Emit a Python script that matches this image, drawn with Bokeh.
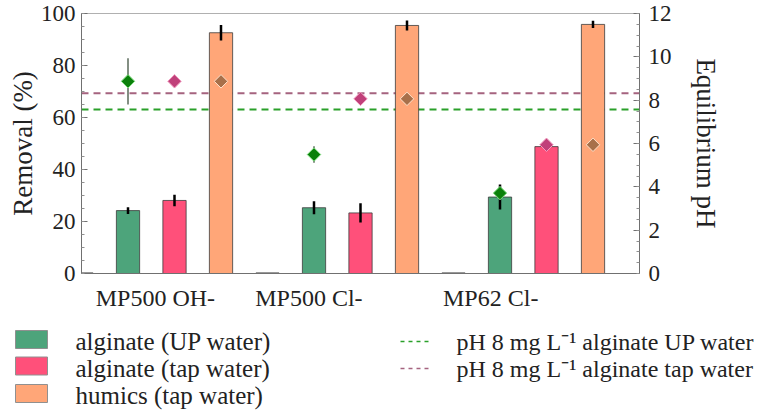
import numpy as np
from bokeh.plotting import figure
from bokeh.models import Range1d, LinearAxis, SingleIntervalTicker, FixedTicker, Span
from bokeh.embed import file_html
from bokeh.resources import INLINE
from bokeh.core.properties import value

# ---------------- data ----------------
categories = ["MP500 OH-", "MP500 Cl-", "MP62 Cl-"]
blank_series = [0.0, 0.0, 0.0]
alg_up = [24.2, 25.3, 29.4]
alg_up_err = [1.3, 2.5, 4.8]
alg_tap = [28.1, 23.3, 48.8]
alg_tap_err = [2.2, 3.7, 0.6]
humics_tap = [92.6, 95.4, 95.8]
humics_tap_err = [3.0, 1.9, 1.4]
ph_alg_up = [8.87, 5.49, 3.71]
ph_alg_up_err = [1.07, 0.38, 0.3]
ph_alg_tap = [8.87, 8.06, 5.94]
ph_humics_tap = [8.87, 8.06, 5.94]
ph_ref_up_water = 7.57
ph_ref_tap_water = 8.32
bar_names = ["alginate (UP water)", "alginate (tap water)", "humics (tap water)"]
line_names = ["pH 8 mg L\u207b\u00b9 alginate UP water", "pH 8 mg L\u207b\u00b9 alginate tap water"]

# ---------------- style ----------------
FONT = "Liberation Serif"
C_GREEN = "#4da47b"
C_PINK = "#ff507a"
C_ORANGE = "#ffa678"
D_GREEN, D_GREEN_L = "#0b800b", "#7fdc7f"
D_PINK, D_PINK_L = "#c0407a", "#f29cc0"
D_BROWN, D_BROWN_L = "#a8704a", "#ffe2cc"
L_GREEN = "#2aa02a"
L_PURPLE = "#a5637f"
TXT = "#222222"

group_x = 4 * np.arange(len(categories))
label_ticks = [1.59, 4.89, 8.80]

MAIN_H = 315
p = figure(width=763, height=MAIN_H, x_range=Range1d(0, 12), y_range=Range1d(0, 100),
           output_backend="svg", toolbar_location=None,
           x_axis_type=None, y_axis_type=None,
           min_border_left=81, min_border_right=124, min_border_top=13, min_border_bottom=42)
p.extra_y_ranges = {"ph": Range1d(0, 12)}
p.outline_line_color = "#b0b0b0"
p.background_fill_color = "white"
p.border_fill_color = "white"


def style_axis(ax, label_size="27px"):
    ax.axis_line_color = "#707070"
    ax.major_tick_line_color = "#707070"
    ax.minor_tick_line_color = "#909090"
    ax.major_tick_in = 6
    ax.major_tick_out = 0
    ax.minor_tick_in = 3
    ax.minor_tick_out = 0
    ax.major_label_text_font = FONT
    ax.major_label_text_font_size = "23px"
    ax.major_label_text_color = TXT
    ax.axis_label_text_font = FONT
    ax.axis_label_text_font_size = label_size
    ax.axis_label_text_font_style = "normal"
    ax.axis_label_text_color = TXT


yl = LinearAxis(ticker=SingleIntervalTicker(interval=20, num_minor_ticks=4), axis_label="Removal (%)")
style_axis(yl)
yl.major_label_standoff = 6
yl.axis_label_standoff = 0
p.add_layout(yl, "left")

yr = LinearAxis(y_range_name="ph", ticker=SingleIntervalTicker(interval=2, num_minor_ticks=4),
                axis_label="Equilibrium pH")
style_axis(yr)
yr.major_label_standoff = 9
yr.axis_label_standoff = 16
p.add_layout(yr, "right")

xb = LinearAxis(ticker=FixedTicker(ticks=label_ticks),
                major_label_overrides={t: c for t, c in zip(label_ticks, categories)})
style_axis(xb)
xb.major_tick_line_color = None
xb.minor_tick_line_color = None
xb.major_label_text_font_size = "24px"
xb.major_label_standoff = 11
p.add_layout(xb, "below")

# reference pH lines (behind bars)
for loc, col in [(ph_ref_up_water, L_GREEN), (ph_ref_tap_water, L_PURPLE)]:
    p.add_layout(Span(location=loc, dimension="width", y_range_name="ph", line_color=col,
                      line_width=2, line_dash="7 5", level="underlay"))

# bars
series = [(blank_series, [0, 0, 0], "#cccccc", 0),
          (alg_up, alg_up_err, C_GREEN, 1),
          (alg_tap, alg_tap_err, C_PINK, 2),
          (humics_tap, humics_tap_err, C_ORANGE, 3)]
for vals, errs, col, k in series:
    xs = group_x + k
    v = np.array(vals)
    e = np.array(errs)
    if k == 0:
        p.vbar(x=xs, top=v, width=0.5, fill_color=col, line_color="#333333", line_width=2)
        continue
    p.vbar(x=xs, top=v, width=0.5, fill_color=col, line_color="#3c3c3c", line_width=1, line_alpha=0.8)
    p.segment(x0=xs, y0=v - e, x1=xs, y1=v + e, line_color="black", line_width=2.5)

# pH diamonds (rotated squares)
pu = np.array(ph_alg_up)
pue = np.array(ph_alg_up_err)
p.segment(x0=group_x + 1, y0=pu - pue, x1=group_x + 1, y1=pu + pue, line_color="#5a6a5a",
          line_width=1.5, y_range_name="ph")
for xs, ys, fc, lc in [(group_x + 1, ph_alg_up, D_GREEN, D_GREEN_L),
                       (group_x + 2, ph_alg_tap, D_PINK, D_PINK_L),
                       (group_x + 3, ph_humics_tap, D_BROWN, D_BROWN_L)]:
    p.scatter(x=xs, y=ys, marker="square", angle=np.pi / 4, size=9.5, fill_color=fc, line_color=lc,
              line_width=1, y_range_name="ph")

# ---------------- legend figure (separate root, page pixel coordinates) ----------------
LH = 410 - MAIN_H
lg = figure(width=763, height=LH, x_range=Range1d(0, 763), y_range=Range1d(MAIN_H + LH, MAIN_H),
            output_backend="svg", toolbar_location=None, x_axis_type=None, y_axis_type=None,
            min_border=0, min_border_left=0, min_border_right=0, min_border_top=0, min_border_bottom=0)
lg.outline_line_color = None
lg.grid.visible = False

sw_rows = np.array([339.0, 365.5, 393.0])
tx_rows = np.array([341.0, 368.0, 395.0])
lg.rect(x=[31, 31, 31], y=sw_rows, width=32, height=18,
        fill_color=[C_GREEN, C_PINK, C_ORANGE], line_color="#909090", line_width=1)
lg.text(x=[75, 75, 75], y=tx_rows, text=bar_names, text_font=value(FONT), text_font_size="25px",
        text_baseline="middle", text_align="left", text_color=TXT)
for yy, col in zip(tx_rows[:2], [L_GREEN, L_PURPLE]):
    lg.line(x=[400, 431], y=[yy, yy], line_color=col, line_width=1.5, line_dash="4 4")
lg.text(x=[456, 456], y=tx_rows[:2], text=line_names, text_font=value(FONT), text_font_size="24px",
        text_baseline="middle", text_align="left", text_color=TXT)

open("out.html", "w").write(file_html([p, lg], INLINE))
